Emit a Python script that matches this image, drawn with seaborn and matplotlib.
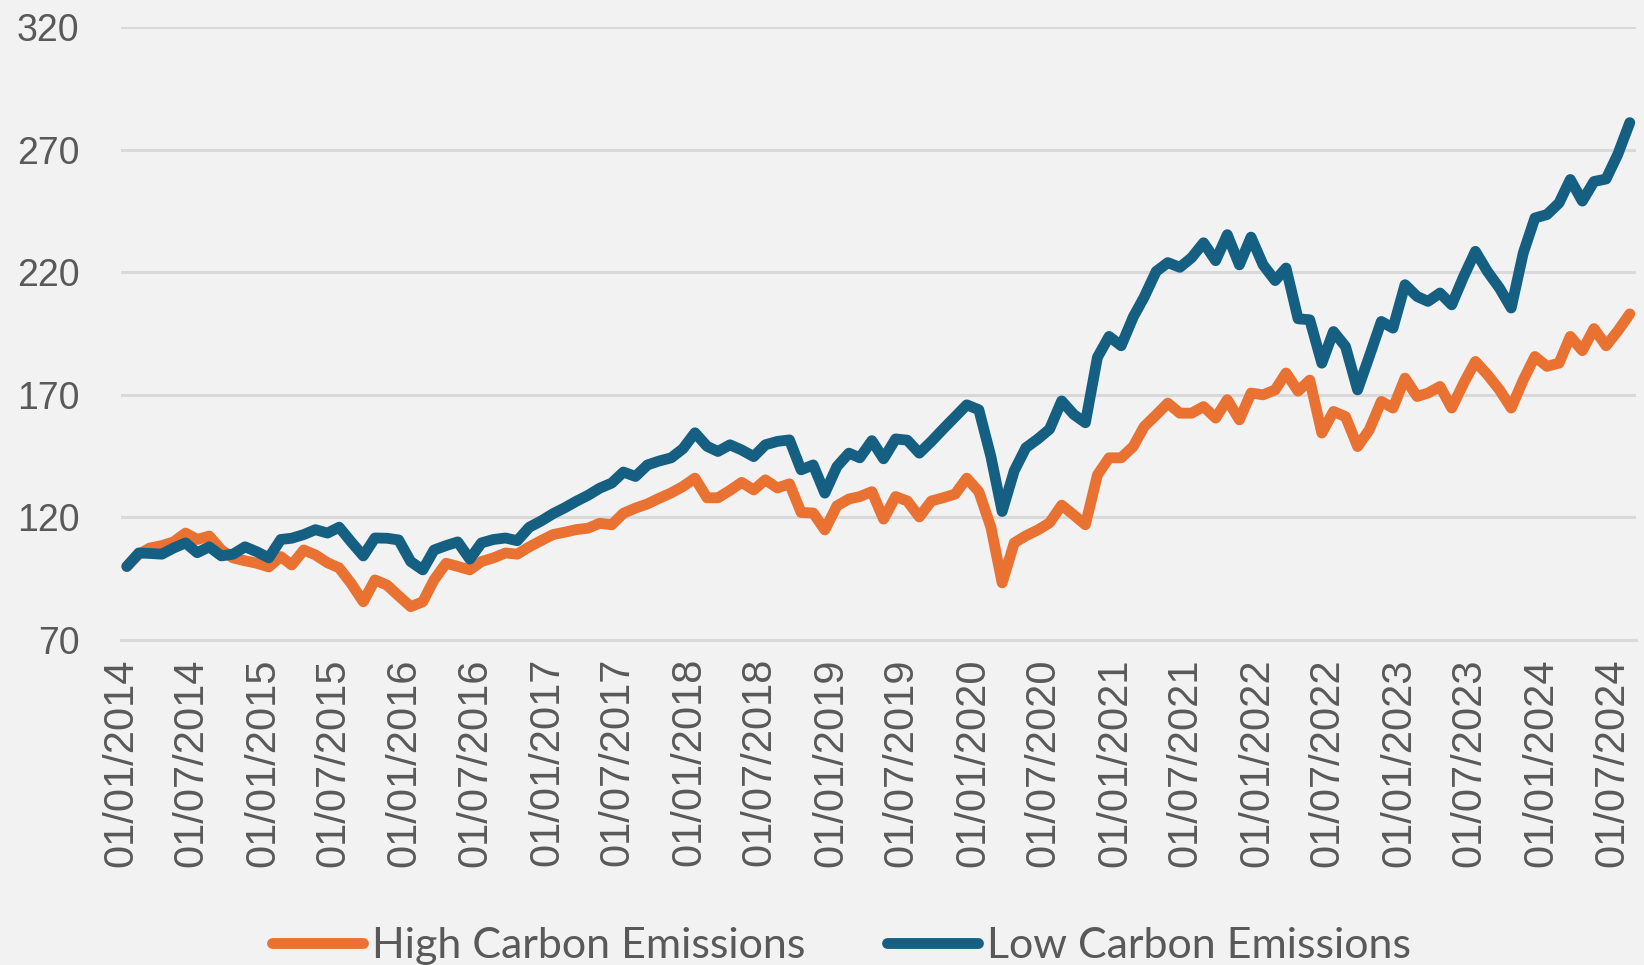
import numpy as np
import pandas as pd
import matplotlib
matplotlib.use("Agg")
import matplotlib.pyplot as plt
import matplotlib.dates as mdates
import seaborn as sns

# ---- data (monthly index levels, Jan 2014 = 100) ----
start_month = "2014-01-01"
series_names = ["High Carbon Emissions", "Low Carbon Emissions"]

high_carbon = [
    100, 105, 107.5, 108.5, 110, 113.6, 111, 112.4, 106.7, 103.5,
    102.3, 101.3, 99.8, 104, 100.6, 106.7, 104.7, 101.5, 99.4, 93,
    85.6, 94.5, 92.4, 88, 83.6, 85.6, 94.5, 101.3, 100, 98.6,
    102, 103.5, 105.5, 105, 108, 110.5, 113, 114, 115, 115.6,
    117.6, 117, 121.7, 123.8, 125.5, 127.8, 130, 132.6, 136, 128,
    128, 131, 134.3, 131.2, 135.3, 132, 133.7, 122, 121.8, 114.9,
    124.7, 127.5, 128.5, 130.5, 119.3, 128.5, 126.7, 120.2, 126.7, 128,
    129.5, 136, 130.5, 116, 93.3, 109.6, 112.5, 114.9, 117.8, 125,
    121, 117, 137.3, 144.3, 144.3, 148.9, 157, 161.8, 166.6, 162.5,
    162.5, 165.2, 160.5, 168, 159.8, 170.7, 170, 172, 178.9, 171.5,
    176, 154.4, 163.2, 161.1, 148.9, 155.7, 167.3, 164.6, 176.8, 169.3,
    170.7, 173.4, 164.6, 174.8, 183.6, 178.2, 172, 164.6, 176, 185.6,
    181.6, 182.9, 193.8, 188, 197, 190, 196, 203,
]

low_carbon = [
    100, 105.5, 105.3, 105, 107.5, 109.6, 105.6, 108, 104.3, 105,
    108, 106, 103.5, 111, 111.5, 113, 115, 113.6, 116, 110,
    104.3, 111.6, 111.5, 110.8, 102, 98.6, 106.7, 108.5, 110, 103,
    109.6, 111, 111.6, 110.5, 116, 118.5, 121.5, 124, 126.5, 129,
    131.9, 134, 138.5, 136.7, 141.4, 143, 144.3, 148, 154.5, 149,
    146.9, 149.6, 147.5, 144.8, 149.6, 151, 151.6, 139.4, 141.4, 129.9,
    140.7, 146.2, 144.3, 151.3, 143.9, 152, 151.5, 146.2, 151, 156,
    161, 165.9, 163.9, 144.8, 122.4, 139, 148.4, 152, 156, 167.5,
    162, 158.6, 185.3, 193.8, 190, 201.7, 209.8, 220.3, 223.9, 222,
    225.9, 232, 224.7, 235.3, 223, 234.3, 223, 216.6, 221.7, 201,
    200.6, 182.9, 195.8, 189.7, 172, 185.6, 199.9, 197.2, 214.9, 210.1,
    208.1, 211.5, 206.7, 218.3, 228.5, 220.3, 213.5, 205.4, 227.8, 242.1,
    243.5, 248.2, 257.8, 249, 257, 258, 268, 281,
]

y_ticks = [70, 120, 170, 220, 270, 320]
colors = ["#E97132", "#156082"]

# ---- build long table ----
n = len(high_carbon)
# Excel date axis "between tick marks": each monthly point sits mid-month
dates = pd.date_range(start_month, periods=n, freq="MS") + pd.Timedelta(days=15)
df = pd.DataFrame({
    "date": np.concatenate([dates, dates]),
    "value": high_carbon + low_carbon,
    "series": [series_names[0]] * n + [series_names[1]] * n,
})

sns.set_style("white")
plt.rcParams["font.family"] = ["Liberation Sans", "DejaVu Sans"]

bg = "#F2F2F2"
grid_c = "#D9D9D9"
text_c = "#595959"

fig = plt.figure(figsize=(16.44, 9.65), dpi=100, facecolor=bg)
ax = fig.add_axes([121 / 1644, 1 - 640 / 965, (1636 - 121) / 1644, (640 - 27) / 965])
ax.set_facecolor(bg)

sns.lineplot(data=df, x="date", y="value", hue="series", hue_order=series_names,
             palette=colors, linewidth=7.8, ax=ax, legend=False,
             solid_capstyle="round", solid_joinstyle="round", zorder=3)

ax.set_ylim(70, 320)
ax.set_yticks(y_ticks)
ax.set_xlim(pd.Timestamp("2014-01-01"), pd.Timestamp("2024-09-01"))
ax.xaxis.set_major_locator(mdates.MonthLocator(bymonth=[1, 7]))
ax.xaxis.set_major_formatter(mdates.DateFormatter("%d/%m/%Y"))

ax.grid(axis="y", color=grid_c, linewidth=2.2, zorder=0)
ax.grid(axis="x", visible=False)
for s in ["top", "right", "left"]:
    ax.spines[s].set_visible(False)
ax.spines["bottom"].set_color(grid_c)
ax.spines["bottom"].set_linewidth(2.2)
ax.spines["bottom"].set_zorder(1)

ax.tick_params(axis="y", length=0, pad=30, labelsize=27, labelcolor=text_c)
ax.tick_params(axis="x", length=8, width=2, color=grid_c, pad=5,
               labelsize=30, labelcolor=text_c, labelrotation=90)
ax.set_xlabel("")
ax.set_ylabel("")

handles = [plt.Line2D([], [], color=c, linewidth=7.8, solid_capstyle="round") for c in colors]
leg = fig.legend(handles, series_names, loc="center", bbox_to_anchor=(0.512, 0.02),
                 ncol=2, frameon=False, handlelength=2.1, handletextpad=0.22,
                 columnspacing=1.9, prop={"family": ["Lato", "DejaVu Sans"], "size": 31})
for t in leg.get_texts():
    t.set_color(text_c)

fig.savefig("out.png", dpi=100, facecolor=bg)
